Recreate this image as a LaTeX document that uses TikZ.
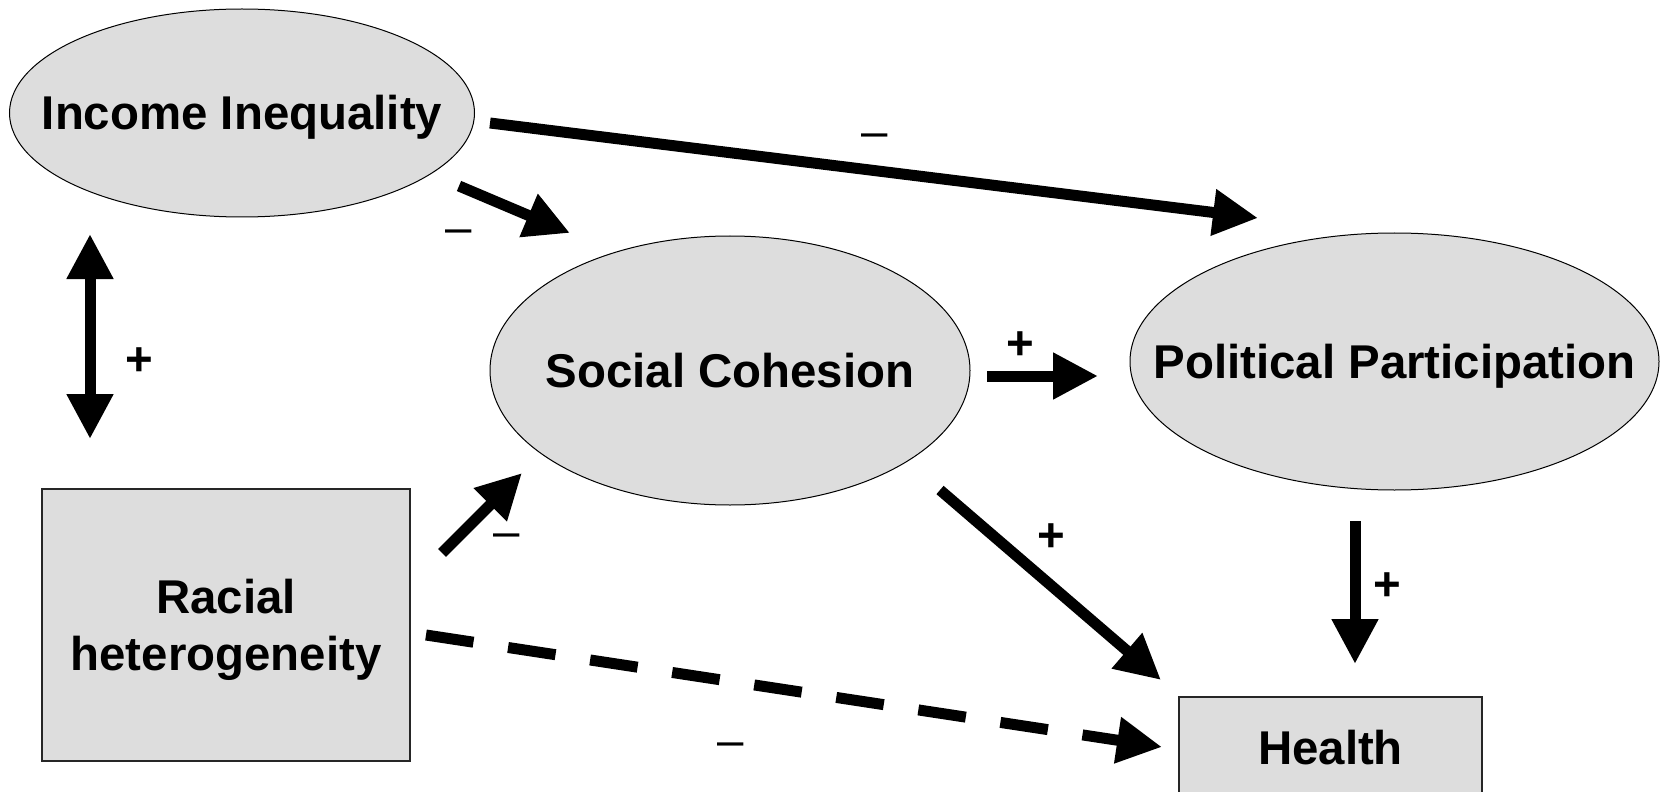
\documentclass[tikz,border=0pt]{standalone}
\usepackage{fontspec}
\setmainfont{Liberation Sans}
\usetikzlibrary{shapes.geometric,arrows.meta}
\definecolor{nodegray}{RGB}{221,221,221}

\begin{document}
\begin{tikzpicture}[x=0.5pt, y=-0.5pt, font=\fontsize{23.7}{28.5}\selectfont\bfseries,
	oval/.style = {draw, ellipse, fill=nodegray, line width=0.5pt, inner sep=0pt},
	box/.style = {draw=black!85, fill=nodegray, line width=0.6pt, inner sep=0pt, align=center, text depth=0pt},
	every label/.style = {text height=17pt, text depth=0pt},
	conn/.style = {line width=5.5pt, -{Triangle[length=22.5pt, width=22pt]}},
	twoway/.style = {conn, {Triangle[length=22.5pt, width=22pt]}-{Triangle[length=22.5pt, width=22pt]}},
	plus/.style = {inner sep=0pt, yshift=-2pt},
	minus/.style = {inner sep=0pt, yshift=-3.25pt, font=\fontsize{23.7}{28.5}\selectfont}]
		\useasboundingbox (0,0) rectangle (1667,792);
		\node[oval, minimum width=232.5pt, minimum height=104pt, label=center:Income Inequality] (inc) at (242,113) {};
		\node[oval, minimum width=240pt, minimum height=134.5pt, label=center:Social Cohesion] (soc) at (730,370.5) {};
		\node[oval, minimum width=264.5pt, minimum height=128.5pt, label=center:Political Participation] (pol) at (1394.5,361.5) {};
		\node[box, minimum width=184pt, minimum height=136pt] (rac) at (226,625) {Racial\\heterogeneity};
		\node[box, minimum width=151.5pt, minimum height=50pt] (hea) at (1330.5,747) {Health};
		\draw[conn] ([shift={(248,10)}]inc.center) -- ([shift={(-136.5,-143.5)}]pol.center);
		\draw[conn] ([shift={(217,73)}]inc.center) -- ([shift={(-160,-137.5)}]soc.center);
		\draw[twoway] ([shift={(-152,121)}]inc.center) -- ([shift={(-136,-186)}]rac.center);
		\draw[conn] ([shift={(216,-72)}]rac.center) -- ([shift={(-208,102.5)}]soc.center);
		\draw[conn] ([shift={(257,5.5)}]soc.center) -- ([shift={(-296.5,14.5)}]pol.center);
		\draw[conn] ([shift={(210,119.5)}]soc.center) -- ([shift={(-169.5,-67)}]hea.center);
		\draw[conn] ([shift={(-39.5,159.5)}]pol.center) -- ([shift={(24.5,-83)}]hea.center);
		\draw[conn, dash pattern=on 24pt off 17.5pt] ([shift={(200,10)}]rac.center) -- ([shift={(-168.5,0)}]hea.center);
		\node[minus] (m1) at (875,134) {\textendash};
		\node[minus] (m2) at (459,230) {\textendash};
		\node[plus] (p1) at (139,358) {+};
		\node[minus] (m3) at (507,534) {\textendash};
		\node[plus] (p2) at (1020,342) {+};
		\node[plus] (p3) at (1051,534) {+};
		\node[plus] (p4) at (1387,583) {+};
		\node[minus] (m4) at (731,743) {\textendash};
\end{tikzpicture}
\end{document}
